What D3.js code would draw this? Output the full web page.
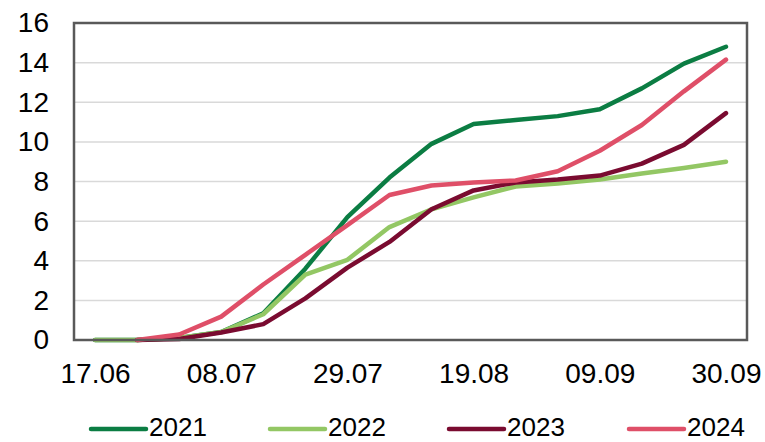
<!DOCTYPE html>
<html>
<head>
<meta charset="utf-8">
<script src="https://cdn.jsdelivr.net/npm/d3@7"></script>
<style>
  body { margin: 0; background: #fff; }
  text { font-family: "Liberation Sans", Arial, sans-serif; fill: #000; }
</style>
</head>
<body>
<div id="chart"></div>
<script>
// weekly dates, labels shown every third week
const dates = ["17.06", "24.06", "01.07", "08.07", "15.07", "22.07", "29.07", "05.08",
  "12.08", "19.08", "26.08", "02.09", "09.09", "16.09", "23.09", "30.09"];
const tickLabels = ["17.06", "08.07", "29.07", "19.08", "09.09", "30.09"];
const yTicks = [0, 2, 4, 6, 8, 10, 12, 14, 16];

const years = ["2021", "2022", "2023", "2024"];
const colors = ["#0b7d43", "#93c764", "#7a0b30", "#df4f68"];

const v2021 = [0, 0, 0.1, 0.4, 1.35, 3.6, 6.2, 8.2, 9.9, 10.9, 11.1, 11.3, 11.65, 12.7, 13.95, 14.8];
const v2022 = [0, 0, 0.1, 0.4, 1.3, 3.3, 4.05, 5.7, 6.6, 7.2, 7.75, 7.9, 8.1, 8.4, 8.68, 9.0];
const v2023 = [null, 0, 0.05, 0.38, 0.8, 2.1, 3.65, 4.95, 6.6, 7.55, 7.95, 8.1, 8.3, 8.9, 9.85, 11.45];
const v2024 = [null, 0, 0.28, 1.18, 2.8, 4.3, 5.8, 7.32, 7.8, 7.95, 8.05, 8.52, 9.55, 10.85, 12.55, 14.15];
const series = [v2021, v2022, v2023, v2024];

const width = 765, height = 442;
const margin = { top: 23, right: 18, bottom: 102, left: 74 };
const x0 = margin.left, x1 = width - margin.right;
const y0 = height - margin.bottom, y1 = margin.top;

const svg = d3.select("#chart").append("svg")
  .attr("width", width)
  .attr("height", height);

const x = d3.scalePoint().domain(dates).range([x0, x1]).padding(0.5);
const y = d3.scaleLinear().domain([0, 16]).range([y0, y1]);

// gridlines
svg.append("g")
  .selectAll("line")
  .data(yTicks.filter(d => d > 0 && d < 16))
  .join("line")
  .attr("x1", x0).attr("x2", x1)
  .attr("y1", d => y(d)).attr("y2", d => y(d))
  .attr("stroke", "#d9d9d9")
  .attr("stroke-width", 1.5);

// y axis labels
const yAxis = svg.append("g")
  .attr("transform", `translate(${x0},0)`)
  .call(d3.axisLeft(y).tickValues(yTicks).tickSize(0).tickPadding(25));
yAxis.select(".domain").remove();
yAxis.selectAll("text").style("font-size", "28px").attr("fill", "#000");

// x axis labels
const xAxis = svg.append("g")
  .attr("transform", `translate(0,${y0})`)
  .call(d3.axisBottom(x).tickValues(tickLabels).tickSize(0).tickPadding(23));
xAxis.select(".domain").remove();
xAxis.selectAll("text").style("font-size", "28px").attr("fill", "#000");

// series lines
const line = d3.line()
  .defined(d => d != null)
  .x((d, i) => x(dates[i]))
  .y(d => y(d));

svg.append("g")
  .selectAll("path")
  .data(series)
  .join("path")
  .attr("d", line)
  .attr("fill", "none")
  .attr("stroke", (d, i) => colors[i])
  .attr("stroke-width", 4.5)
  .attr("stroke-linejoin", "round")
  .attr("stroke-linecap", "round");

// plot frame
svg.append("rect")
  .attr("x", x0).attr("y", y1)
  .attr("width", x1 - x0).attr("height", y0 - y1)
  .attr("fill", "none")
  .attr("stroke", "#595959")
  .attr("stroke-width", 2.5);

// legend
const legendX = [91, 270, 449, 629];
const legend = svg.append("g")
  .selectAll("g")
  .data(years)
  .join("g")
  .attr("transform", (d, i) => `translate(${legendX[i]},429)`);

legend.append("line")
  .attr("x1", 0).attr("x2", 55)
  .attr("stroke", (d, i) => colors[i])
  .attr("stroke-width", 4.5)
  .attr("stroke-linecap", "round");

legend.append("text")
  .attr("x", 58)
  .attr("y", 7)
  .style("font-size", "26px")
  .text(d => d);
</script>
</body>
</html>
